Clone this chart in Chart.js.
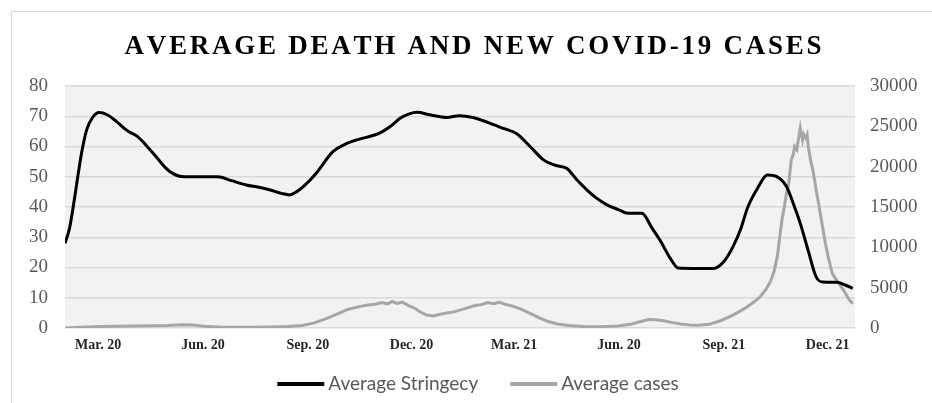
<!DOCTYPE html>
<html>
<head>
<meta charset="utf-8">
<script src="https://cdn.jsdelivr.net/npm/chart.js@4.4.1/dist/chart.umd.min.js"></script>
<style>
  html, body { margin: 0; padding: 0; background: #ffffff; }
  canvas { display: block; }
</style>
</head>
<body>
<canvas id="chart" width="932" height="403"></canvas>
<script>
// Day 0 = 1 Feb 2020
const titleText = 'AVERAGE DEATH AND NEW COVID-19 CASES';
const seriesNames = ['Average Stringecy', 'Average cases'];

const tickDays = [29, 121, 213, 304, 394, 486, 578, 669];
const tickLabels = ['Mar. 20', 'Jun. 20', 'Sep. 20', 'Dec. 20', 'Mar. 21', 'Jun. 20', 'Sep. 21', 'Dec. 21'];

const stringencyDays = [0, 4, 8, 12, 15, 19, 24, 30, 37, 45, 52, 56, 64, 72, 80, 88, 94, 102, 118, 134,
  146, 159, 170, 180, 190, 197, 203, 209, 220, 235, 246, 256, 266, 276, 285, 294, 302, 309, 320, 335,
  346, 358, 367, 376, 386, 396, 408, 420, 430, 440, 449, 458, 466, 475, 485, 494, 506, 515, 522, 531,
  538, 550, 569, 578, 586, 593, 599, 608, 616, 624, 633, 639, 645, 652, 659, 665, 677, 684, 691];
const stringencyValues = [28, 33, 42, 52, 58.8, 65.5, 69.5, 71.2, 70.5, 68.3, 66, 64.9, 63.2, 60, 56.6, 53, 51.2, 50.1, 50, 50,
  48.7, 47.3, 46.5, 45.6, 44.5, 44, 45, 46.7, 51, 58.3, 60.8, 62.2, 63.2, 64.4, 66.5, 69.3, 70.8, 71.3, 70.5, 69.6,
  70.2, 69.6, 68.5, 67.2, 65.8, 64.3, 60, 55.5, 53.8, 52.8, 49, 45.6, 43, 40.8, 39.2, 37.9, 37.9, 33, 29, 23,
  19.8, 19.7, 19.7, 22, 26.9, 33, 40, 46.5, 50.6, 50.1, 46.7, 41, 34.6, 25.5, 16.8, 15.2, 15.1, 14.3, 13.1];

const caseDays = [0, 10, 20, 31, 45, 60, 75, 90, 103, 112, 122, 135, 150, 165, 180, 195, 208, 218, 228, 238,
  248, 258, 266, 272, 278, 283, 287, 291, 296, 301, 306, 311, 317, 323, 329, 335, 341, 347, 353, 359,
  365, 371, 376, 381, 386, 392, 399, 408, 416, 424, 432, 442, 455, 470, 485, 497, 505, 512, 518, 525,
  532, 540, 548, 556, 565, 575, 586, 596, 604, 610, 615, 619, 622, 625, 627, 629, 631, 633, 635, 637,
  639, 640, 642, 644, 645, 646, 647, 648, 650, 651, 652, 654, 656, 657, 659, 661, 662, 664, 667, 670,
  673, 675, 677, 681, 685, 688, 691];
const caseValues = [0, 60, 120, 180, 230, 260, 280, 320, 400, 360, 220, 120, 80, 90, 120, 180, 320, 600, 1100, 1700,
  2300, 2650, 2850, 2950, 3150, 3000, 3300, 3050, 3200, 2800, 2500, 2050, 1600, 1500, 1700, 1850, 2000, 2250, 2500, 2750,
  2900, 3150, 3000, 3200, 2950, 2750, 2400, 1800, 1250, 800, 500, 300, 180, 170, 250, 500, 800, 1050, 1020, 900,
  700, 500, 380, 350, 450, 900, 1600, 2400, 3200, 3900, 4800, 5800, 7000, 9000, 11300, 13500, 15000, 16800, 18000, 20800,
  21600, 22500, 22100, 24000, 24800, 24000, 23300, 24000, 23500, 23900, 22500, 20800, 19600, 18800, 17000, 15500, 14600, 13000, 10500, 8500,
  6800, 6300, 5900, 5100, 4200, 3500, 3000];

const toPoints = (xs, ys) => xs.map((x, i) => ({ x: x, y: ys[i] }));

// Frame, plot background, spaced-out heading and the legend row
const decorations = {
  id: 'decorations',
  beforeDraw(chart) {
    const { ctx, chartArea: a } = chart;
    ctx.save();
    ctx.fillStyle = '#f2f2f2';
    ctx.fillRect(a.left, a.top, a.right - a.left, a.bottom - a.top);
    ctx.strokeStyle = '#d9d9d9';
    ctx.lineWidth = 1;
    ctx.beginPath();
    ctx.moveTo(11.5, chart.height);
    ctx.lineTo(11.5, 11.5);
    ctx.lineTo(chart.width, 11.5);
    ctx.stroke();
    ctx.restore();
  },
  afterDraw(chart) {
    const { ctx } = chart;
    ctx.save();

    // heading
    ctx.font = 'bold 27px "Liberation Serif"';
    ctx.fillStyle = '#000000';
    ctx.textBaseline = 'alphabetic';
    const chars = Array.from(titleText);
    const widths = chars.map(c => ctx.measureText(c).width);
    const natural = widths.reduce((s, w) => s + w, 0);
    const targetWidth = 697;
    const gap = (targetWidth - natural) / (chars.length - 1);
    let x = 473 - targetWidth / 2;
    chars.forEach((c, i) => {
      ctx.fillText(c, x, 54);
      x += widths[i] + gap;
    });

    // legend
    const lineLen = 47, textGap = 4, itemGap = 32, cy = 384;
    ctx.font = '19px Lato';
    ctx.textBaseline = 'middle';
    const items = chart.data.datasets.map(ds => ({
      text: ds.label,
      color: ds.borderColor,
      w: lineLen + textGap + ctx.measureText(ds.label).width
    }));
    const total = items.reduce((s, it) => s + it.w, 0) + itemGap * (items.length - 1);
    let lx = 478 - total / 2;
    items.forEach(it => {
      ctx.fillStyle = it.color;
      ctx.fillRect(lx, cy - 2, lineLen, 4);
      ctx.fillStyle = '#595959';
      ctx.fillText(it.text, lx + lineLen + textGap, cy);
      lx += it.w + itemGap;
    });
    ctx.restore();
  }
};

new Chart(document.getElementById('chart'), {
  type: 'line',
  data: {
    datasets: [
      {
        label: seriesNames[0],
        data: toPoints(stringencyDays, stringencyValues),
        borderColor: '#000000',
        backgroundColor: '#000000',
        borderWidth: 3,
        pointRadius: 0,
        cubicInterpolationMode: 'monotone',
        yAxisID: 'y'
      },
      {
        label: seriesNames[1],
        data: toPoints(caseDays, caseValues),
        borderColor: '#a6a6a6',
        backgroundColor: '#a6a6a6',
        borderWidth: 3,
        pointRadius: 0,
        tension: 0,
        yAxisID: 'y1'
      }
    ]
  },
  options: {
    responsive: false,
    animation: false,
    devicePixelRatio: 1,
    layout: { padding: { top: 86, left: 0, right: 0, bottom: 38 } },
    scales: {
      x: {
        type: 'linear',
        min: 0,
        max: 693,
        grid: { display: false, drawTicks: false },
        border: { display: false },
        afterBuildTicks(scale) {
          scale.ticks = tickDays.map(v => ({ value: v }));
        },
        afterFit(scale) { scale.height = 37; },
        ticks: {
          autoSkip: false,
          maxRotation: 0,
          padding: 9,
          color: '#262626',
          font: { family: '"Liberation Serif"', size: 14, weight: 'bold' },
          callback(value) {
            const i = tickDays.indexOf(value);
            return i >= 0 ? tickLabels[i] : '';
          }
        }
      },
      y: {
        position: 'left',
        min: 0,
        max: 80,
        grid: { color: '#d9d9d9', lineWidth: 1.5, drawTicks: false },
        border: { display: false },
        afterFit(scale) { scale.width = 65; },
        ticks: {
          stepSize: 10,
          padding: 17,
          color: '#595959',
          font: { family: '"Liberation Serif"', size: 19 }
        }
      },
      y1: {
        position: 'right',
        min: 0,
        max: 30000,
        grid: { display: false, drawTicks: false },
        border: { display: false },
        afterFit(scale) { scale.width = 77; },
        ticks: {
          stepSize: 5000,
          padding: 15,
          color: '#595959',
          font: { family: '"Liberation Serif"', size: 19 },
          callback(value) { return String(value); }
        }
      }
    },
    plugins: {
      title: { display: false },
      tooltip: { enabled: false },
      legend: { display: false }
    }
  },
  plugins: [decorations]
});
</script>
</body>
</html>
